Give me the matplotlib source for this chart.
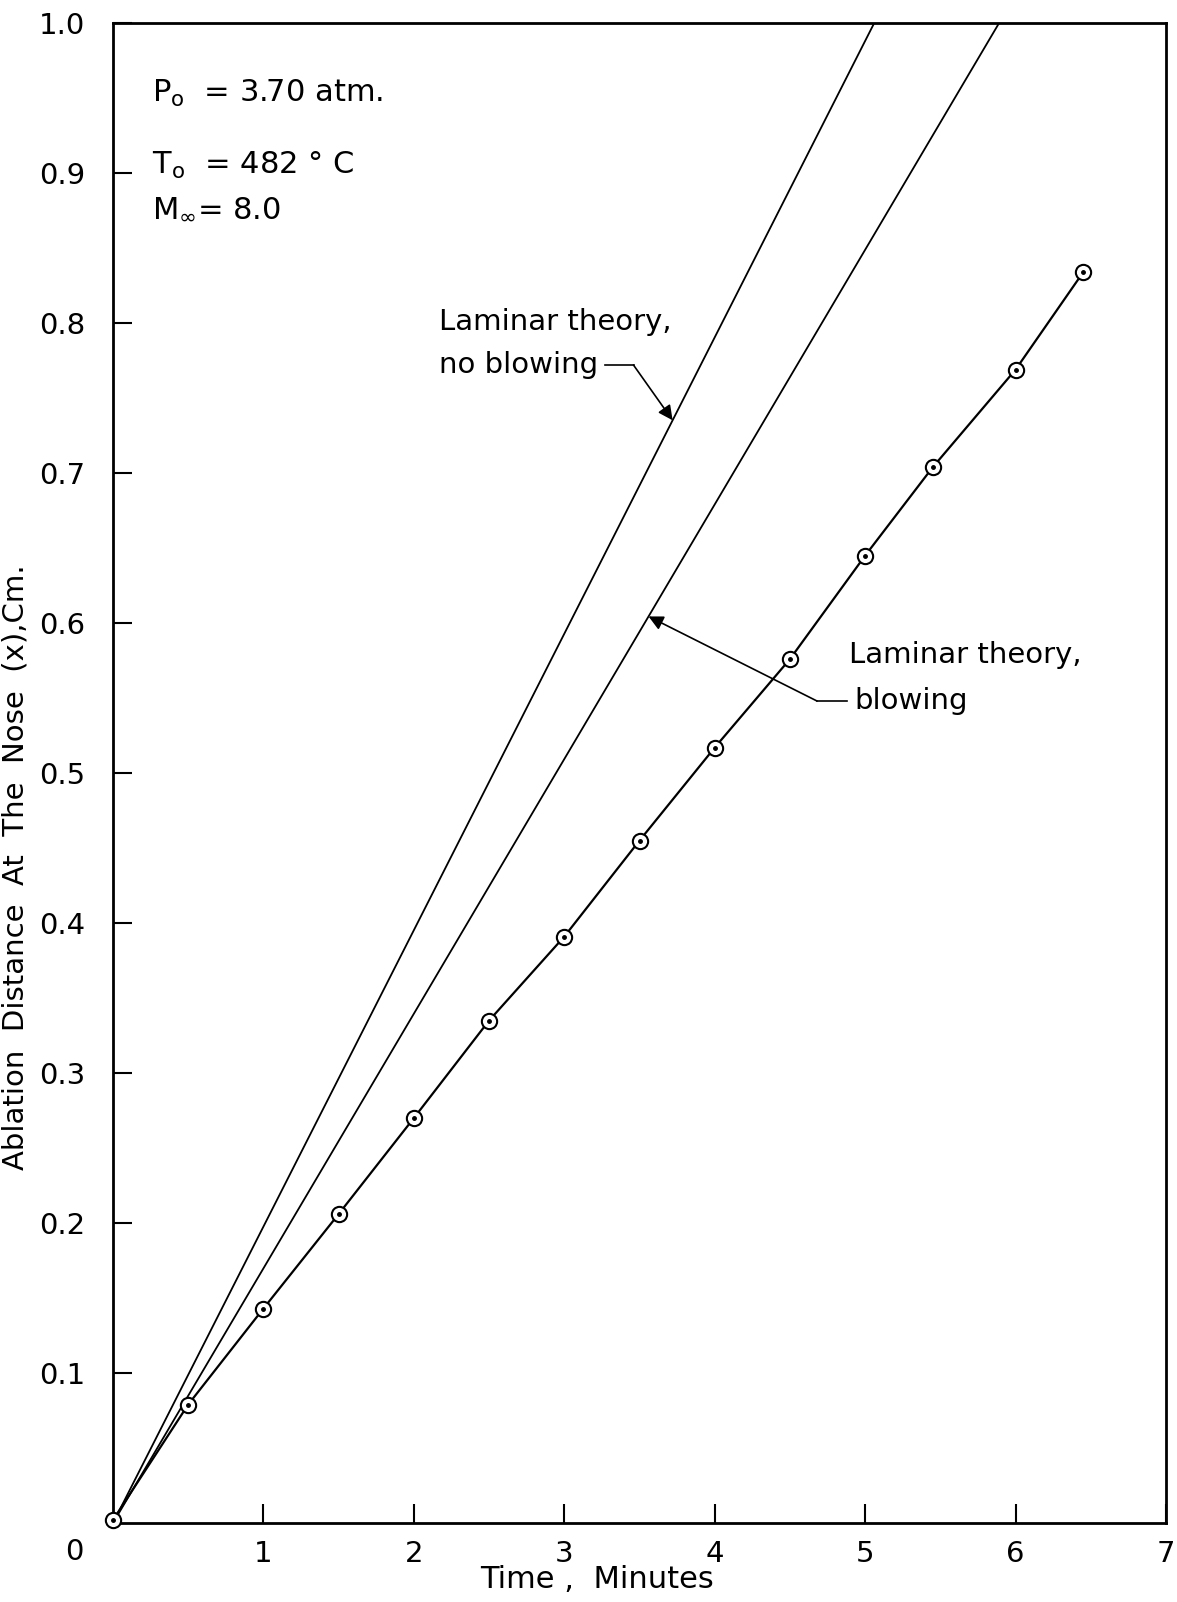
import matplotlib
matplotlib.use("Agg")
import matplotlib.pyplot as plt

plt.rcParams['mathtext.default'] = 'regular'
plt.rcParams['font.family'] = ['DejaVu Sans']

# measured data
time_min = [0.0, 0.5, 1.0, 1.5, 2.0, 2.5, 3.0, 3.5, 4.0, 4.5, 5.0, 5.45, 6.0, 6.45]
ablation_cm = [0.002, 0.079, 0.143, 0.206, 0.270, 0.335, 0.391, 0.455, 0.517,
               0.576, 0.645, 0.704, 0.769, 0.834]

# theory lines (straight from origin)
no_blow_x = [0.0, 5.06]
no_blow_y = [0.0, 1.0]
blow_x = [0.0, 5.89]
blow_y = [0.0, 1.0]

x_ticks = [1, 2, 3, 4, 5, 6, 7]
x_ticklabels = ["1", "2", "3", "4", "5", "6", "7"]
y_ticks = [0.1, 0.2, 0.3, 0.4, 0.5, 0.6, 0.7, 0.8, 0.9, 1.0]
y_ticklabels = ["0.1", "0.2", "0.3", "0.4", "0.5", "0.6", "0.7", "0.8", "0.9", "1.0"]

fig = plt.figure(figsize=(11.77, 16.02), dpi=100)
ax = fig.add_axes([0.096, 0.0493, 0.8947, 0.9363])
ax.set_xlim(0, 7)
ax.set_ylim(0, 1.0)

ax.plot(no_blow_x, no_blow_y, color='black', lw=1.3)
ax.plot(blow_x, blow_y, color='black', lw=1.3)
ax.plot(time_min, ablation_cm, color='black', lw=1.6, zorder=3)
ax.plot(time_min, ablation_cm, linestyle='none', marker='o', ms=11,
        mfc='white', mec='black', mew=1.5, zorder=4, clip_on=False)
ax.plot(time_min, ablation_cm, linestyle='none', marker='o', ms=2.5,
        mfc='black', mec='black', zorder=5, clip_on=False)

for s in ax.spines.values():
    s.set_linewidth(2.0)

ax.set_xticks(x_ticks)
ax.set_xticklabels(x_ticklabels)
ax.set_yticks(y_ticks)
ax.set_yticklabels(y_ticklabels)
ax.tick_params(direction='in', length=14, width=1.5, labelsize=21, pad=12)
ax.tick_params(axis='y', pad=20)
ax.text(-0.26, -0.019, "0", fontsize=21, ha='center', va='center', clip_on=False)

ax.set_xlabel("Time ,  Minutes", fontsize=22)
ax.xaxis.set_label_coords(3.22 / 7, -0.028)
ax.set_ylabel("Ablation  Distance  At  The  Nose  (x),Cm.", fontsize=21)
ax.yaxis.set_label_coords(-0.079, 0.437)

pfs = 22
ax.text(0.26, 0.953, "P$_o$  = 3.70 atm.", fontsize=pfs, va='center')
ax.text(0.26, 0.905, "T$_o$  = 482 ° C", fontsize=pfs, va='center')
ax.text(0.26, 0.877, "M$_{\\infty}$= 8.0", fontsize=pfs, va='center')

tfs = 21
ax.text(2.17, 0.801, "Laminar theory,", fontsize=tfs, va='center')
ax.text(2.17, 0.772, "no blowing", fontsize=tfs, va='center')
ax.plot([3.27, 3.46], [0.772, 0.772], color='black', lw=1.2)
ax.annotate("", xy=(3.72, 3.72 / 5.06), xytext=(3.46, 0.772),
            arrowprops=dict(arrowstyle='-|>', color='black', lw=1.2,
                            mutation_scale=22, shrinkA=0, shrinkB=0))

ax.text(4.89, 0.579, "Laminar theory,", fontsize=tfs, va='center')
ax.text(4.93, 0.548, "blowing", fontsize=tfs, va='center')
ax.plot([4.88, 4.68], [0.548, 0.548], color='black', lw=1.2)
ax.annotate("", xy=(3.56, 3.56 / 5.89), xytext=(4.68, 0.548),
            arrowprops=dict(arrowstyle='-|>', color='black', lw=1.2,
                            mutation_scale=22, shrinkA=0, shrinkB=0))

fig.savefig("out.png", dpi=100)
